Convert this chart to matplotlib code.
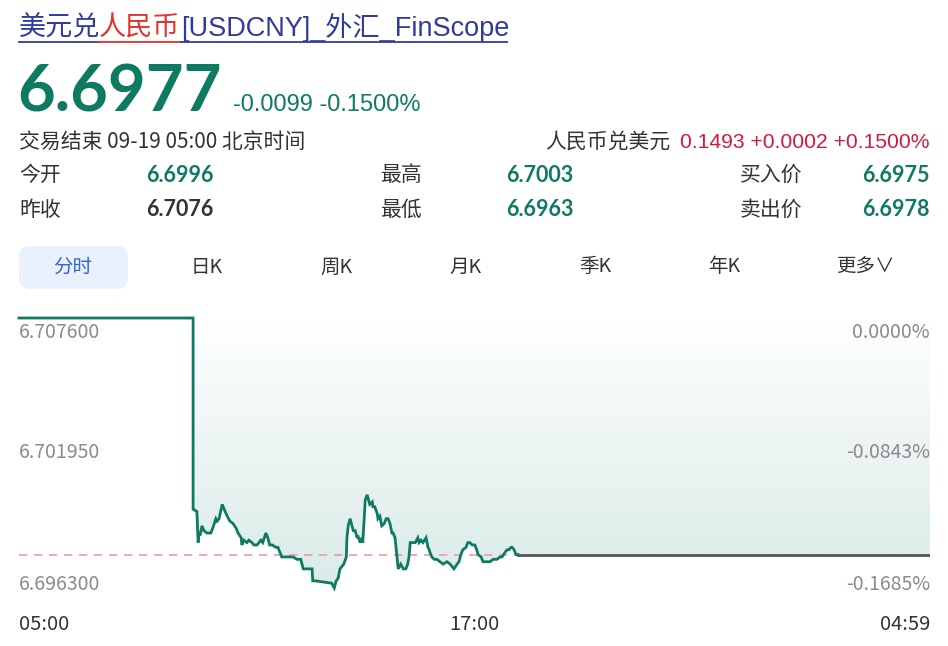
import numpy as np
import matplotlib
matplotlib.use("Agg")
import matplotlib.pyplot as plt
from matplotlib.patches import FancyBboxPatch
from matplotlib.lines import Line2D
from matplotlib.colors import LinearSegmentedColormap

plt.rcParams['font.family'] = ['Noto Sans CJK SC', 'DejaVu Sans']

# minutes since 05:00 and price (USDCNY)
minutes = [0, 275, 275, 281, 283, 284, 286, 289, 292, 297, 300, 303, 306, 311, 313, 316,
           321, 324, 329, 333, 338, 343, 346, 351, 352, 355, 360, 363, 368, 371, 376, 379,
           382, 385, 390, 393, 396, 400, 406, 409, 412, 415, 420, 433, 439, 445, 449, 463,
           464, 468, 494, 498, 501, 504, 507, 510, 513, 517, 518, 520, 523, 526, 528, 531,
           534, 535, 539, 542, 543, 547, 550, 551, 554, 558, 559, 562, 566, 567, 570, 573,
           577, 580, 583, 586, 589, 591, 594, 597, 599, 603, 607, 611, 614, 616, 618, 621,
           626, 630, 632, 635, 638, 643, 646, 648, 649, 652, 656, 660, 665, 670, 676, 681,
           684, 687, 692, 695, 698, 701, 706, 709, 712, 716, 717, 720, 723, 725, 730, 733,
           739, 744, 749, 755, 760, 763, 768, 771, 774, 777, 779, 782, 785, 788]
prices = [6.7076, 6.7076, 6.6996, 6.6995, 6.6982, 6.6986, 6.6985, 6.6989, 6.6987, 6.6986,
          6.6986, 6.6986, 6.6988, 6.6992, 6.6991, 6.6992, 6.6998, 6.6996, 6.6993, 6.6991,
          6.6990, 6.6988, 6.6986, 6.6984, 6.6981, 6.6983, 6.6982, 6.6983, 6.6982, 6.6981,
          6.6981, 6.6982, 6.6983, 6.6982, 6.6986, 6.6984, 6.6981, 6.6981, 6.6980, 6.6980,
          6.6978, 6.6976, 6.6976, 6.6976, 6.6975, 6.6975, 6.6971, 6.6971, 6.6966, 6.6966,
          6.6965, 6.6963, 6.6966, 6.6967, 6.6971, 6.6972, 6.6973, 6.6976, 6.6984, 6.6989,
          6.6992, 6.6989, 6.6987, 6.6987, 6.6984, 6.6985, 6.6982, 6.6984, 6.6982, 6.7000,
          6.7002, 6.7001, 6.6998, 6.6999, 6.6997, 6.6997, 6.6994, 6.6992, 6.6993, 6.6989,
          6.6990, 6.6992, 6.6992, 6.6990, 6.6986, 6.6986, 6.6984, 6.6976, 6.6971, 6.6973,
          6.6971, 6.6971, 6.6973, 6.6976, 6.6982, 6.6982, 6.6982, 6.6984, 6.6982, 6.6983,
          6.6982, 6.6984, 6.6980, 6.6979, 6.6978, 6.6976, 6.6975, 6.6975, 6.6974, 6.6973,
          6.6974, 6.6973, 6.6972, 6.6971, 6.6973, 6.6974, 6.6977, 6.6979, 6.6980, 6.6982,
          6.6982, 6.6981, 6.6981, 6.6981, 6.6979, 6.6977, 6.6976, 6.6974, 6.6974, 6.6974,
          6.6975, 6.6975, 6.6976, 6.6976, 6.6978, 6.6979, 6.6979, 6.6980, 6.6980, 6.6979,
          6.6977, 6.6977]

prev_close = 6.7076
last_price = 6.6977
end_minute = 1439
y_ticks = [6.7076, 6.70195, 6.6963]
y_labels = ["6.707600", "6.701950", "6.696300"]
pct_labels = ["0.0000%", "-0.0843%", "-0.1685%"]
x_labels = ["05:00", "17:00", "04:59"]
x_ticks = [0, 720, 1439]

tabs = ["分时", "日K", "周K", "月K", "季K", "年K", "更多∨"]
tab_x = [73, 207, 336, 465, 595, 724, 865]

W, H = 948, 646
fig = plt.figure(figsize=(W / 100, H / 100), dpi=100)
fig.patch.set_facecolor("white")

def px(x, y):
    return x / W, 1 - y / H

def txt(x, y, s, **kw):
    kw.setdefault("va", "center")
    fig.text(*px(x, y), s, **kw)

green = "#0e7a62"
red = "#d21a3c"
dark = "#333333"
grey = "#8a8a8f"
num_font = ["Lato", "DejaVu Sans"]
arial = ["Liberation Sans", "Noto Sans CJK SC"]

# title with underline
blue = "#2e3b9f"
txt(19, 28, "美元兑", fontsize=19.5, color=blue)
txt(99, 28, "人民币", fontsize=19.5, color="#e3312b")
txt(181, 28, "[USDCNY]_外汇_FinScope", fontsize=19.5, color=blue, family=arial)
fig.add_artist(Line2D([19 / W, 99 / W], [1 - 42 / H] * 2, color=blue, lw=1.3))
fig.add_artist(Line2D([99 / W, 181 / W], [1 - 42 / H] * 2, color="#e3312b", lw=1.3))
fig.add_artist(Line2D([181 / W, 507 / W], [1 - 42 / H] * 2, color=blue, lw=1.3))

# quote header
txt(17, 93, "6.6977", fontsize=47, color=green, fontweight="bold", family=num_font)
txt(233, 105, "-0.0099 -0.1500%", fontsize=17, color=green, family=arial)
txt(19, 142, "交易结束 09-19 05:00 北京时间", fontsize=15, color=dark)
txt(670, 142, "人民币兑美元", fontsize=15, color=dark, ha="right")
txt(930, 142, "0.1493 +0.0002 +0.1500%", fontsize=15.2, color=red, ha="right", family=arial)

rows = [("今开", "6.6996", green, "最高", "6.7003", "买入价", "6.6975"),
        ("昨收", "6.7076", dark, "最低", "6.6963", "卖出价", "6.6978")]
for i, (l1, v1, c1, l2, v2, l3, v3) in enumerate(rows):
    y = 175 + i * 35
    txt(19, y, l1, fontsize=15, color=dark)
    txt(146, y, v1, fontsize=15.5, color=c1, fontweight="bold", family=num_font)
    txt(380, y, l2, fontsize=15, color=dark)
    txt(506, y, v2, fontsize=15.5, color=green, fontweight="bold", family=num_font)
    txt(740, y, l3, fontsize=15, color=dark)
    txt(930, y, v3, fontsize=15.5, color=green, fontweight="bold", family=num_font, ha="right")

# tabs
fig.add_artist(FancyBboxPatch((19, H - 289), 109, 43, boxstyle="round,pad=0,rounding_size=11",
                              transform=None, facecolor="#e8f1fd", edgecolor="none"))
for name, x in zip(tabs, tab_x):
    col = "#3a62d8" if name == "分时" else dark
    txt(x, 267, name, fontsize=14, color=col, ha="center")

# chart
ax = fig.add_axes([19 / W, 1 - 588 / H, (930 - 19) / W, 270 / H])
ax.set_xlim(0, end_minute)
ax.set_ylim(y_ticks[-1], y_ticks[0])
ax.axis("off")

t = np.array(minutes + [end_minute], dtype=float)
p = np.array(prices + [last_price])
poly = ax.fill_between(t, p, prev_close, facecolor="none", edgecolor="none")
grad = np.linspace(0, 1, 256).reshape(-1, 1)
cmap = LinearSegmentedColormap.from_list("g", ["#ffffff", "#d9ebe8"])
img = ax.imshow(grad, cmap=cmap, aspect="auto", origin="upper",
                extent=[0, end_minute, y_ticks[-1], y_ticks[0]], zorder=1)
img.set_clip_path(poly.get_paths()[0], transform=ax.transData)

ax.axhline(last_price, color="#ec9aa6", lw=1.2, ls=(0, (5, 4)), zorder=2)
ax.plot(minutes, prices, color=green, lw=2, zorder=3, clip_on=False, solid_joinstyle="miter")
ax.plot([minutes[-1], end_minute], [prices[-1], last_price], color="#555555", lw=2, zorder=3)

for yl, lab, pct in zip([333, 453, 584], y_labels, pct_labels):
    txt(19, yl, lab, fontsize=14, color=grey)
    txt(930, yl, pct, fontsize=14, color=grey, ha="right")

for m, lab in zip(x_ticks, x_labels):
    xp = 19 + m / end_minute * 911
    ha = "left" if m == 0 else ("right" if m == end_minute else "center")
    txt(xp, 625, lab, fontsize=14.5, color=dark, ha=ha)

fig.savefig("out.png", dpi=100)
